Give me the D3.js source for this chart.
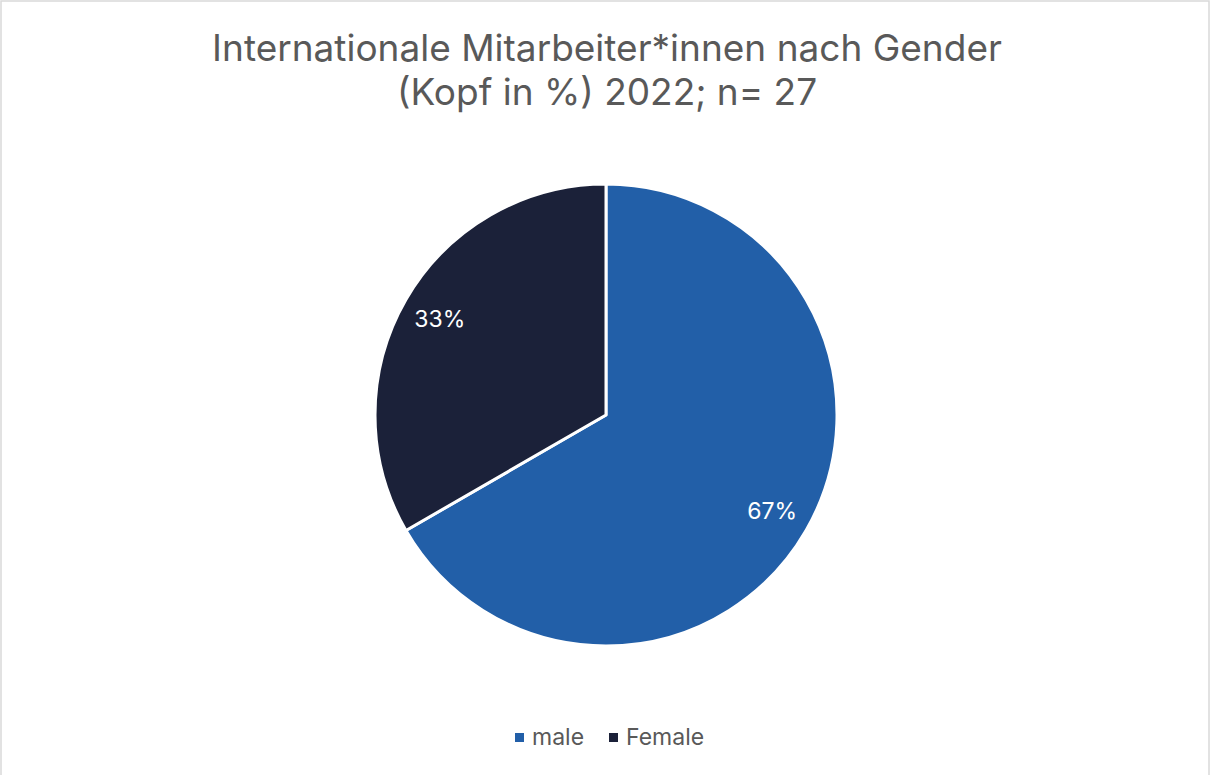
<!DOCTYPE html>
<html lang="de">
<head>
<meta charset="UTF-8">
<title>Internationale Mitarbeiter*innen nach Gender</title>
<script src="https://d3js.org/d3.v7.min.js"></script>
<style>
  body { margin: 0; background: #fff; }
  svg { display: block; font-family: Inter, "Noto Sans", sans-serif; }
</style>
</head>
<body>
<svg id="chart" width="1210" height="775"></svg>
<script>
// data
var categories = ["male", "Female"];
var values = [18, 9];   // heads, n = 27
var colors = ["#225FA8", "#1B2139"];
var titleLines = ["Internationale Mitarbeiter*innen nach Gender", "(Kopf in %) 2022; n= 27"];

var width = 1210, height = 775;
var cx = 606, cy = 415, radius = 231;

var svg = d3.select("#chart");

// frame
svg.append("rect")
  .attr("x", 1).attr("y", 1)
  .attr("width", width - 2).attr("height", height + 10)
  .attr("fill", "none")
  .attr("stroke", "#d9d9d9")
  .attr("stroke-width", 1.5);

// title
svg.append("text")
  .attr("text-anchor", "middle")
  .attr("fill", "#595959")
  .style("font-size", "37px")
  .selectAll("tspan")
  .data(titleLines)
  .join("tspan")
    .attr("x", width / 2 + 2)
    .attr("y", function(d, i) { return 61 + i * 44; })
    .text(function(d) { return d; });

var total = d3.sum(values);
var pie = d3.pie().sort(null).value(function(d) { return d; });
var arcs = pie(values);

var arc = d3.arc().innerRadius(0).outerRadius(radius);
var labelArc = d3.arc().innerRadius(192).outerRadius(192);

var g = svg.append("g").attr("transform", "translate(" + cx + "," + cy + ")");

g.selectAll("path")
  .data(arcs)
  .join("path")
    .attr("d", arc)
    .attr("fill", function(d, i) { return colors[i]; })
    .attr("stroke", "#fff")
    .attr("stroke-width", 3)
    .attr("stroke-linejoin", "round");

g.selectAll("text.label")
  .data(arcs)
  .join("text")
    .attr("class", "label")
    .attr("transform", function(d) { return "translate(" + labelArc.centroid(d) + ")"; })
    .attr("text-anchor", "middle")
    .attr("dy", "0.35em")
    .attr("fill", "#fff")
    .style("font-size", "23px")
    .text(function(d) { return Math.round(d.value / total * 100) + "%"; });

// legend
var legend = svg.append("g").attr("transform", "translate(0,737)");
var xs = [515, 609];
var items = legend.selectAll("g")
  .data(categories)
  .join("g")
    .attr("transform", function(d, i) { return "translate(" + xs[i] + ",0)"; });
items.append("rect")
  .attr("x", 0).attr("y", -4)
  .attr("width", 9).attr("height", 9)
  .attr("fill", function(d, i) { return colors[i]; });
items.append("text")
  .attr("x", 17).attr("y", 0)
  .attr("dy", "0.35em")
  .attr("fill", "#595959")
  .style("font-size", "23px")
  .text(function(d) { return d; });
</script>
</body>
</html>
